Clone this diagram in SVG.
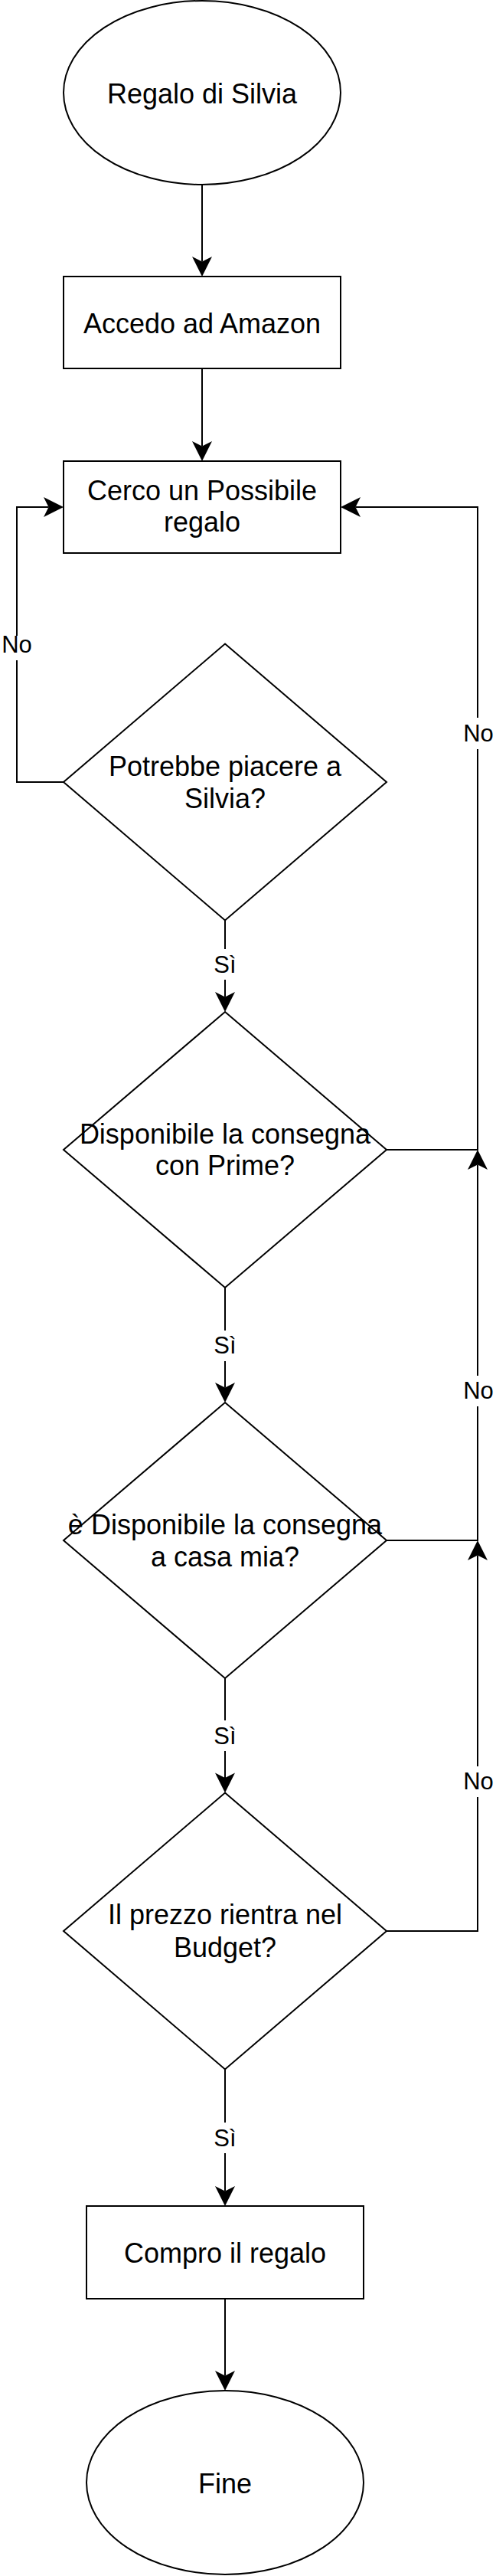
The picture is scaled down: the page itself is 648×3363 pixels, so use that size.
<svg xmlns="http://www.w3.org/2000/svg" width="648" height="3363" viewBox="0 0 648 3363">
<style>
.shape{fill:#fff;stroke:#000;stroke-width:2}
.t{font-family:"Liberation Sans",Arial,sans-serif;font-size:36px;fill:#000;text-anchor:middle}
.lbl{font-family:"Liberation Sans",Arial,sans-serif;font-size:31px;fill:#000;text-anchor:middle}
.edge{fill:none;stroke:#000;stroke-width:2}
.bg{fill:#fff;stroke:none}
</style>
<defs>
<marker id="arr" markerUnits="userSpaceOnUse" markerWidth="30" markerHeight="30" viewBox="-8 -15 30 30" refX="0" refY="0" orient="auto" overflow="visible">
<path d="M19.5,0 L-6.5,-13 L0,0 L-6.5,13 Z" fill="#000"/>
</marker>
</defs>
<rect width="648" height="3363" fill="#fff"/>
<g id="connectors">
<path class="edge" d="M264,241 V341.5" marker-end="url(#arr)"/>
<path class="edge" d="M264,481 V582.5" marker-end="url(#arr)"/>
<path class="edge" d="M83,1021 H22 V662 H63.5" marker-end="url(#arr)"/>
<path class="edge" d="M294,1201.5 V1301.5" marker-end="url(#arr)"/>
<path class="edge" d="M505,1501 H624 V662 H464.5" marker-end="url(#arr)"/>
<path class="edge" d="M294,1681 V1811.5" marker-end="url(#arr)"/>
<path class="edge" d="M505,2011 H624 V1520.5" marker-end="url(#arr)"/>
<path class="edge" d="M294,2191 V2321" marker-end="url(#arr)"/>
<path class="edge" d="M505,2521 H624 V2030.5" marker-end="url(#arr)"/>
<path class="edge" d="M294,2701.5 V2860.5" marker-end="url(#arr)"/>
<path class="edge" d="M294,3001 V3101.5" marker-end="url(#arr)"/>
<rect class="bg" x="2" y="830" width="40" height="32"/>
<text class="lbl" x="22" y="852">No</text>
<rect class="bg" x="603" y="937" width="45" height="41"/>
<text class="lbl" x="625" y="968">No</text>
<rect class="bg" x="603" y="1796" width="45" height="40"/>
<text class="lbl" x="625" y="1826">No</text>
<rect class="bg" x="603" y="2306" width="45" height="40"/>
<text class="lbl" x="625" y="2336">No</text>
<rect class="bg" x="277" y="1239" width="34" height="40"/>
<text class="lbl" x="294" y="1270">Sì</text>
<rect class="bg" x="277" y="1737" width="34" height="40"/>
<text class="lbl" x="294" y="1767">Sì</text>
<rect class="bg" x="277" y="2246" width="34" height="40"/>
<text class="lbl" x="294" y="2276.5">Sì</text>
<rect class="bg" x="277" y="2771" width="34" height="40"/>
<text class="lbl" x="294" y="2801.5">Sì</text>
</g>
<g id="start">
<ellipse class="shape" cx="264" cy="121" rx="181" ry="120"/>
<text class="t" x="264" y="135">Regalo di Silvia</text>
</g>
<g id="accedo">
<rect class="shape" x="83" y="361" width="362" height="120"/>
<text class="t" x="264" y="435">Accedo ad Amazon</text>
</g>
<g id="cerco">
<rect class="shape" x="83" y="602" width="362" height="120"/>
<text class="t" x="264" y="653">Cerco un Possibile</text>
<text class="t" x="264" y="694">regalo</text>
</g>
<g id="piacere">
<polygon class="shape" points="294,840.5 505,1021 294,1201.5 83,1021"/>
<text class="t" x="294" y="1013">Potrebbe piacere a</text>
<text class="t" x="294" y="1055">Silvia?</text>
</g>
<g id="prime">
<polygon class="shape" points="294,1321 505,1501 294,1681 83,1501"/>
<text class="t" x="294" y="1492.5">Disponibile la consegna</text>
<text class="t" x="294" y="1534">con Prime?</text>
</g>
<g id="casa">
<polygon class="shape" points="294,1831 505,2011 294,2191 83,2011"/>
<text class="t" x="294" y="2003">è Disponibile la consegna</text>
<text class="t" x="294" y="2045">a casa mia?</text>
</g>
<g id="budget">
<polygon class="shape" points="294,2340.5 505,2521 294,2701.5 83,2521"/>
<text class="t" x="294" y="2512">Il prezzo rientra nel</text>
<text class="t" x="294" y="2555">Budget?</text>
</g>
<g id="compro">
<rect class="shape" x="113" y="2880" width="362" height="121"/>
<text class="t" x="294" y="2954">Compro il regalo</text>
</g>
<g id="fine">
<ellipse class="shape" cx="294" cy="3241" rx="181" ry="120"/>
<text class="t" x="294" y="3255">Fine</text>
</g>
</svg>
